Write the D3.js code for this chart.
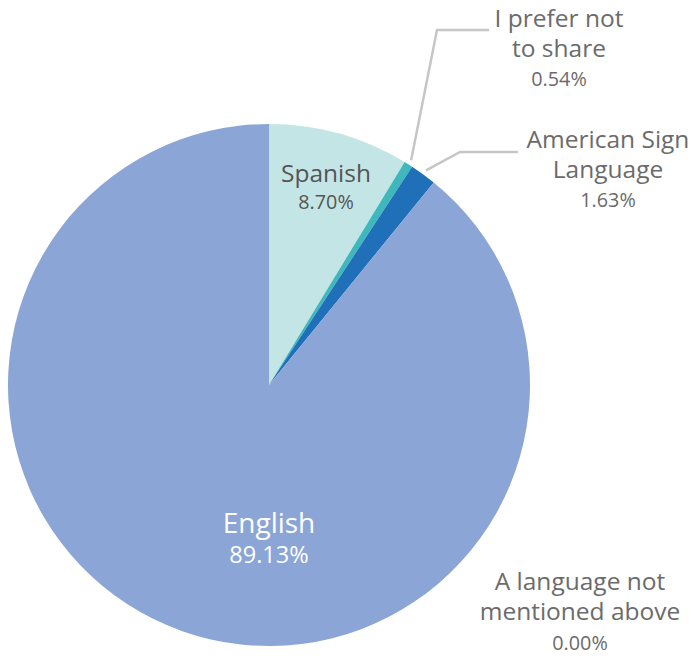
<!DOCTYPE html>
<html>
<head>
<meta charset="utf-8">
<script src="https://cdn.jsdelivr.net/npm/d3@7/dist/d3.min.js"></script>
<style>
  html, body { margin: 0; padding: 0; background: #fff; }
  svg { display: block; font-family: "Open Sans", "Noto Sans", sans-serif; }
</style>
</head>
<body>
<svg id="chart" width="691" height="656"></svg>
<script>
// Primary language responses (percent of respondents)
const categories = ["Spanish", "I prefer not to share", "American Sign Language", "English", "A language not mentioned above"];
const values = [8.70, 0.54, 1.63, 89.13, 0.00];
const valueLabels = ["8.70%", "0.54%", "1.63%", "89.13%", "0.00%"];
const colors = ["#c4e5e6", "#3fb8bd", "#1f6fb9", "#8ba5d6", "#5b6fa8"];

const svg = d3.select("#chart");
const cx = 269, cy = 385, radius = 261;

const data = categories.map((c, i) => ({ name: c, value: values[i], label: valueLabels[i], color: colors[i] }));

const pie = d3.pie().sort(null).value(d => d.value);
const arcs = pie(data);
const arc = d3.arc().innerRadius(0).outerRadius(radius);
const edge = d3.arc().innerRadius(radius + 5).outerRadius(radius + 5);

const g = svg.append("g").attr("transform", `translate(${cx},${cy})`);

g.selectAll("path.slice")
  .data(arcs.filter(a => a.value > 0))
  .join("path")
  .attr("class", "slice")
  .attr("d", arc)
  .attr("fill", d => d.data.color);

// Label layout: lines of the name, value text, optional leader elbow/end
const layout = {
  "Spanish": { x: 326, names: [182], valueY: 209, nameColor: "#555", valueColor: "#555", lines: ["Spanish"] },
  "I prefer not to share": { x: 559, names: [27, 57], valueY: 86, lines: ["I prefer not", "to share"], leader: { elbow: [437, 30], end: [489, 30] } },
  "American Sign Language": { x: 608, names: [148, 178], valueY: 207, lines: ["American Sign", "Language"], leader: { elbow: [460, 152], end: [518, 152] } },
  "English": { x: 269, names: [533], valueY: 563, nameColor: "#fff", valueColor: "#fff", nameSize: 28, valueSize: 23.5, lines: ["English"] },
  "A language not mentioned above": { x: 580, names: [590, 620], valueY: 650, lines: ["A language not", "mentioned above"] }
};

arcs.forEach(a => {
  const L = layout[a.data.name];
  const nameColor = L.nameColor || "#6b6b6b";
  const valueColor = L.valueColor || "#6b6b6b";
  const nameSize = L.nameSize || 24.5;
  const valueSize = L.valueSize || 19.8;

  if (L.leader) {
    const [sx, sy] = edge.centroid(a);
    svg.append("polyline")
      .attr("points", [[sx + cx, sy + cy], L.leader.elbow, L.leader.end].map(p => p.join(",")).join(" "))
      .attr("fill", "none")
      .attr("stroke", "#c6c6c6")
      .attr("stroke-width", 2.5);
  }

  L.lines.forEach((t, i) => {
    svg.append("text")
      .attr("x", L.x).attr("y", L.names[i])
      .attr("text-anchor", "middle")
      .attr("font-size", nameSize)
      .attr("fill", nameColor)
      .text(t);
  });
  svg.append("text")
    .attr("x", L.x).attr("y", L.valueY)
    .attr("text-anchor", "middle")
    .attr("font-size", valueSize)
    .attr("fill", valueColor)
    .text(a.data.label);
});
</script>
</body>
</html>
